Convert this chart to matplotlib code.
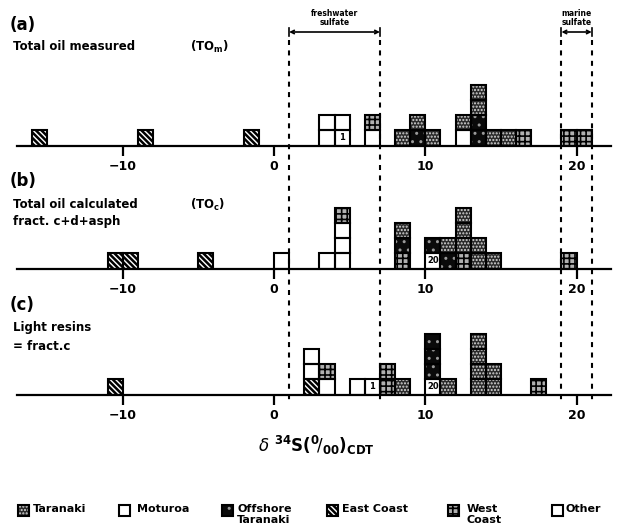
import matplotlib
matplotlib.use("Agg")
import matplotlib.pyplot as plt
from matplotlib.patches import Rectangle

plt.rcParams['font.family'] = ['DejaVu Sans']
plt.rcParams['hatch.linewidth'] = 1.0

# ---------------- data ----------------
# category codes: T Taranaki, M Moturoa, O Offshore Taranaki, E East Coast, W West Coast, X Other
categories = ['T', 'M', 'O', 'E', 'W', 'X']
category_names = ['Taranaki', 'Moturoa', 'Offshore\nTaranaki', 'East Coast', 'West\nCoast', 'Other']

# panel (a): bin left edges (delta 34S, permil) and stacked samples bottom->top
bins_a = [-16, -9, -2, 3, 4, 6, 8, 9, 10, 12, 13, 14, 15, 16, 19, 20]
stacks_a = ['E', 'E', 'E', 'MM', 'MM', 'XW', 'T', 'OT', 'T', 'XT', 'OOTT', 'T', 'T', 'W', 'W', 'W']
marks_a = [(4, 0, '1')]

# panel (b)
bins_b = [-11, -10, -5, 0, 3, 4, 8, 10, 11, 12, 13, 14, 19]
stacks_b = ['E', 'E', 'E', 'X', 'X', 'MXXW', 'WOT', 'XO', 'OT', 'WTTT', 'TT', 'T', 'W']
marks_b = [(10, 0, '20')]

# panel (c)
bins_c = [-11, 2, 3, 5, 6, 7, 8, 10, 11, 13, 14, 17]
stacks_c = ['E', 'EXX', 'XW', 'M', 'M', 'WW', 'T', 'XOOO', 'T', 'TTTT', 'TT', 'W']
marks_c = [(6, 0, '1'), (10, 0, '20')]

panel_letters = ['(a)', '(b)', '(c)']
panel_titles = [['Total oil measured'], ['Total oil calculated', 'fract. c+d+asph'], ['Light resins', '= fract.c']]
panel_tags = [r'(TO$_{\mathbf{m}}$)', r'(TO$_{\mathbf{c}}$)', None]

xticks = [-10, 0, 10, 20]
freshwater_range = [1, 7]
marine_range = [19, 21]

# ---------------- styles ----------------
styles = {
    'T': dict(face='#2a2a2a', hatch='.....', hc='#d8d8d8', hlw=1.0),
    'M': dict(face='white', hatch=None, hc='black', hlw=1.0),
    'O': dict(face='#0a0a0a', hatch='..', hc='#9a9a9a', hlw=1.0),
    'E': dict(face='white', hatch='\\\\\\\\\\\\', hc='black', hlw=1.8),
    'W': dict(face='#b0b0b0', hatch='+++', hc='black', hlw=1.2),
    'X': dict(face='white', hatch=None, hc='black', hlw=1.0),
}

W_PX, H_PX = 620, 527
fig = plt.figure(figsize=(6.2, 5.27), dpi=100)

x_left_u, x_right_u = -17.0, 22.3
px_per_u = 15.13
x0_px = 274.0
L_px = x0_px + x_left_u * px_per_u
R_px = x0_px + x_right_u * px_per_u

def fx(px):
    return px / W_PX

def fy(py):
    return 1 - py / H_PX

def fill_patch(ax, xy, w, h, cat, **kw):
    st = styles[cat]
    with plt.rc_context({'hatch.linewidth': st['hlw']}):
        ax.add_patch(Rectangle(xy, w, h, facecolor=st['face'], edgecolor=st['hc'],
                               hatch=st['hatch'], lw=0, **kw))

def draw_square(ax, x, y, cat):
    fill_patch(ax, (x, y), 1, 1, cat, zorder=2)
    ax.add_patch(Rectangle((x, y), 1, 1, facecolor='none', edgecolor='black', lw=1.5, zorder=3))

baselines = [145.5, 268.5, 394.5]
H_units = 5
panels = [(bins_a, stacks_a, marks_a), (bins_b, stacks_b, marks_b), (bins_c, stacks_c, marks_c)]

for i, (bins, stacks, marks) in enumerate(panels):
    base = baselines[i]
    h_px = H_units * px_per_u
    ax = fig.add_axes([fx(L_px), fy(base), fx(R_px - L_px), h_px / H_PX])
    ax.set_xlim(x_left_u, x_right_u)
    ax.set_ylim(0, H_units)
    ax.patch.set_alpha(0)
    for s in ['top', 'left', 'right']:
        ax.spines[s].set_visible(False)
    ax.spines['bottom'].set_linewidth(1.6)
    ax.set_yticks([])
    ax.set_xticks(xticks)
    ax.set_xticklabels([str(t) if t >= 0 else '\u221210' for t in xticks],
                       fontsize=9, fontweight='bold')
    ax.tick_params(axis='x', direction='out', length=7.5, width=1.6, pad=3)
    for b, stack in zip(bins, stacks):
        for k, cat in enumerate(stack):
            draw_square(ax, b, k, cat)
    for (b, k, txt) in marks:
        ax.text(b + 0.5, k + 0.5, txt, ha='center', va='center', fontsize=6,
                fontweight='bold', zorder=4)

# overlay axes in (data x, pixel y)
ov = fig.add_axes([fx(L_px), 0, fx(R_px - L_px), 1])
ov.set_xlim(x_left_u, x_right_u)
ov.set_ylim(H_PX, 0)
ov.axis('off')
ov.patch.set_alpha(0)

for xv in freshwater_range + marine_range:
    ov.plot([xv, xv], [40, 400], color='black', lw=1.5, ls=(0, (2.4, 2.6)))

for rng, label in [(freshwater_range, 'freshwater\nsulfate'), (marine_range, 'marine\nsulfate')]:
    ov.annotate('', xy=(rng[0], 32), xytext=(rng[1], 32),
                arrowprops=dict(arrowstyle='<->', lw=1.2, color='black',
                                shrinkA=0, shrinkB=0, mutation_scale=6))
    for xv in rng:
        ov.plot([xv, xv], [28, 36], color='black', lw=1.2)
    ov.text(sum(rng) / 2, 18, label, ha='center', va='center', fontsize=5.5,
            fontweight='bold', linespacing=0.9)

# panel text
letter_y = [25, 181, 305]
title_y = [[47], [205, 222], [328, 346]]
tag_x = 190
for i in range(3):
    fig.text(fx(10), fy(letter_y[i]), panel_letters[i], fontsize=12, fontweight='bold',
             ha='left', va='center')
    for t, yy in zip(panel_titles[i], title_y[i]):
        fig.text(fx(13), fy(yy), t, fontsize=8.5, fontweight='bold', ha='left', va='center')
    if panel_tags[i]:
        fig.text(fx(tag_x), fy(title_y[i][0]), panel_tags[i], fontsize=8.5,
                 fontweight='bold', ha='left', va='center')

# x label
fig.text(fx(316), fy(445), r'$\delta$ $^{\mathbf{34}}$S($^{\mathbf{0}}\!/_{\mathbf{00}}$)$_{\mathbf{CDT}}$',
         fontsize=12, fontweight='bold', ha='center', va='center')

# legend
leg_patch_x = [18, 119, 222, 327, 448, 552]
leg_text_x = [33, 137, 237, 342, 467, 566]
leg_y = 510
sz = 11
for cat, name, px, tx in zip(categories, category_names, leg_patch_x, leg_text_x):
    axl = fig.add_axes([fx(px), fy(leg_y + sz / 2), fx(sz), sz / H_PX])
    axl.set_xlim(0, 1)
    axl.set_ylim(0, 1)
    axl.axis('off')
    fill_patch(axl, (0, 0), 1, 1, cat)
    axl.add_patch(Rectangle((0, 0), 1, 1, facecolor='none', edgecolor='black', lw=1.5,
                            clip_on=False))
    lines = name.split('\n')
    fig.text(fx(tx), fy(leg_y - 1), lines[0], fontsize=8, fontweight='bold',
             ha='left', va='center')
    if len(lines) > 1:
        fig.text(fx(tx), fy(leg_y + 10), lines[1], fontsize=8, fontweight='bold',
                 ha='left', va='center')

fig.savefig('out.png', dpi=100)
